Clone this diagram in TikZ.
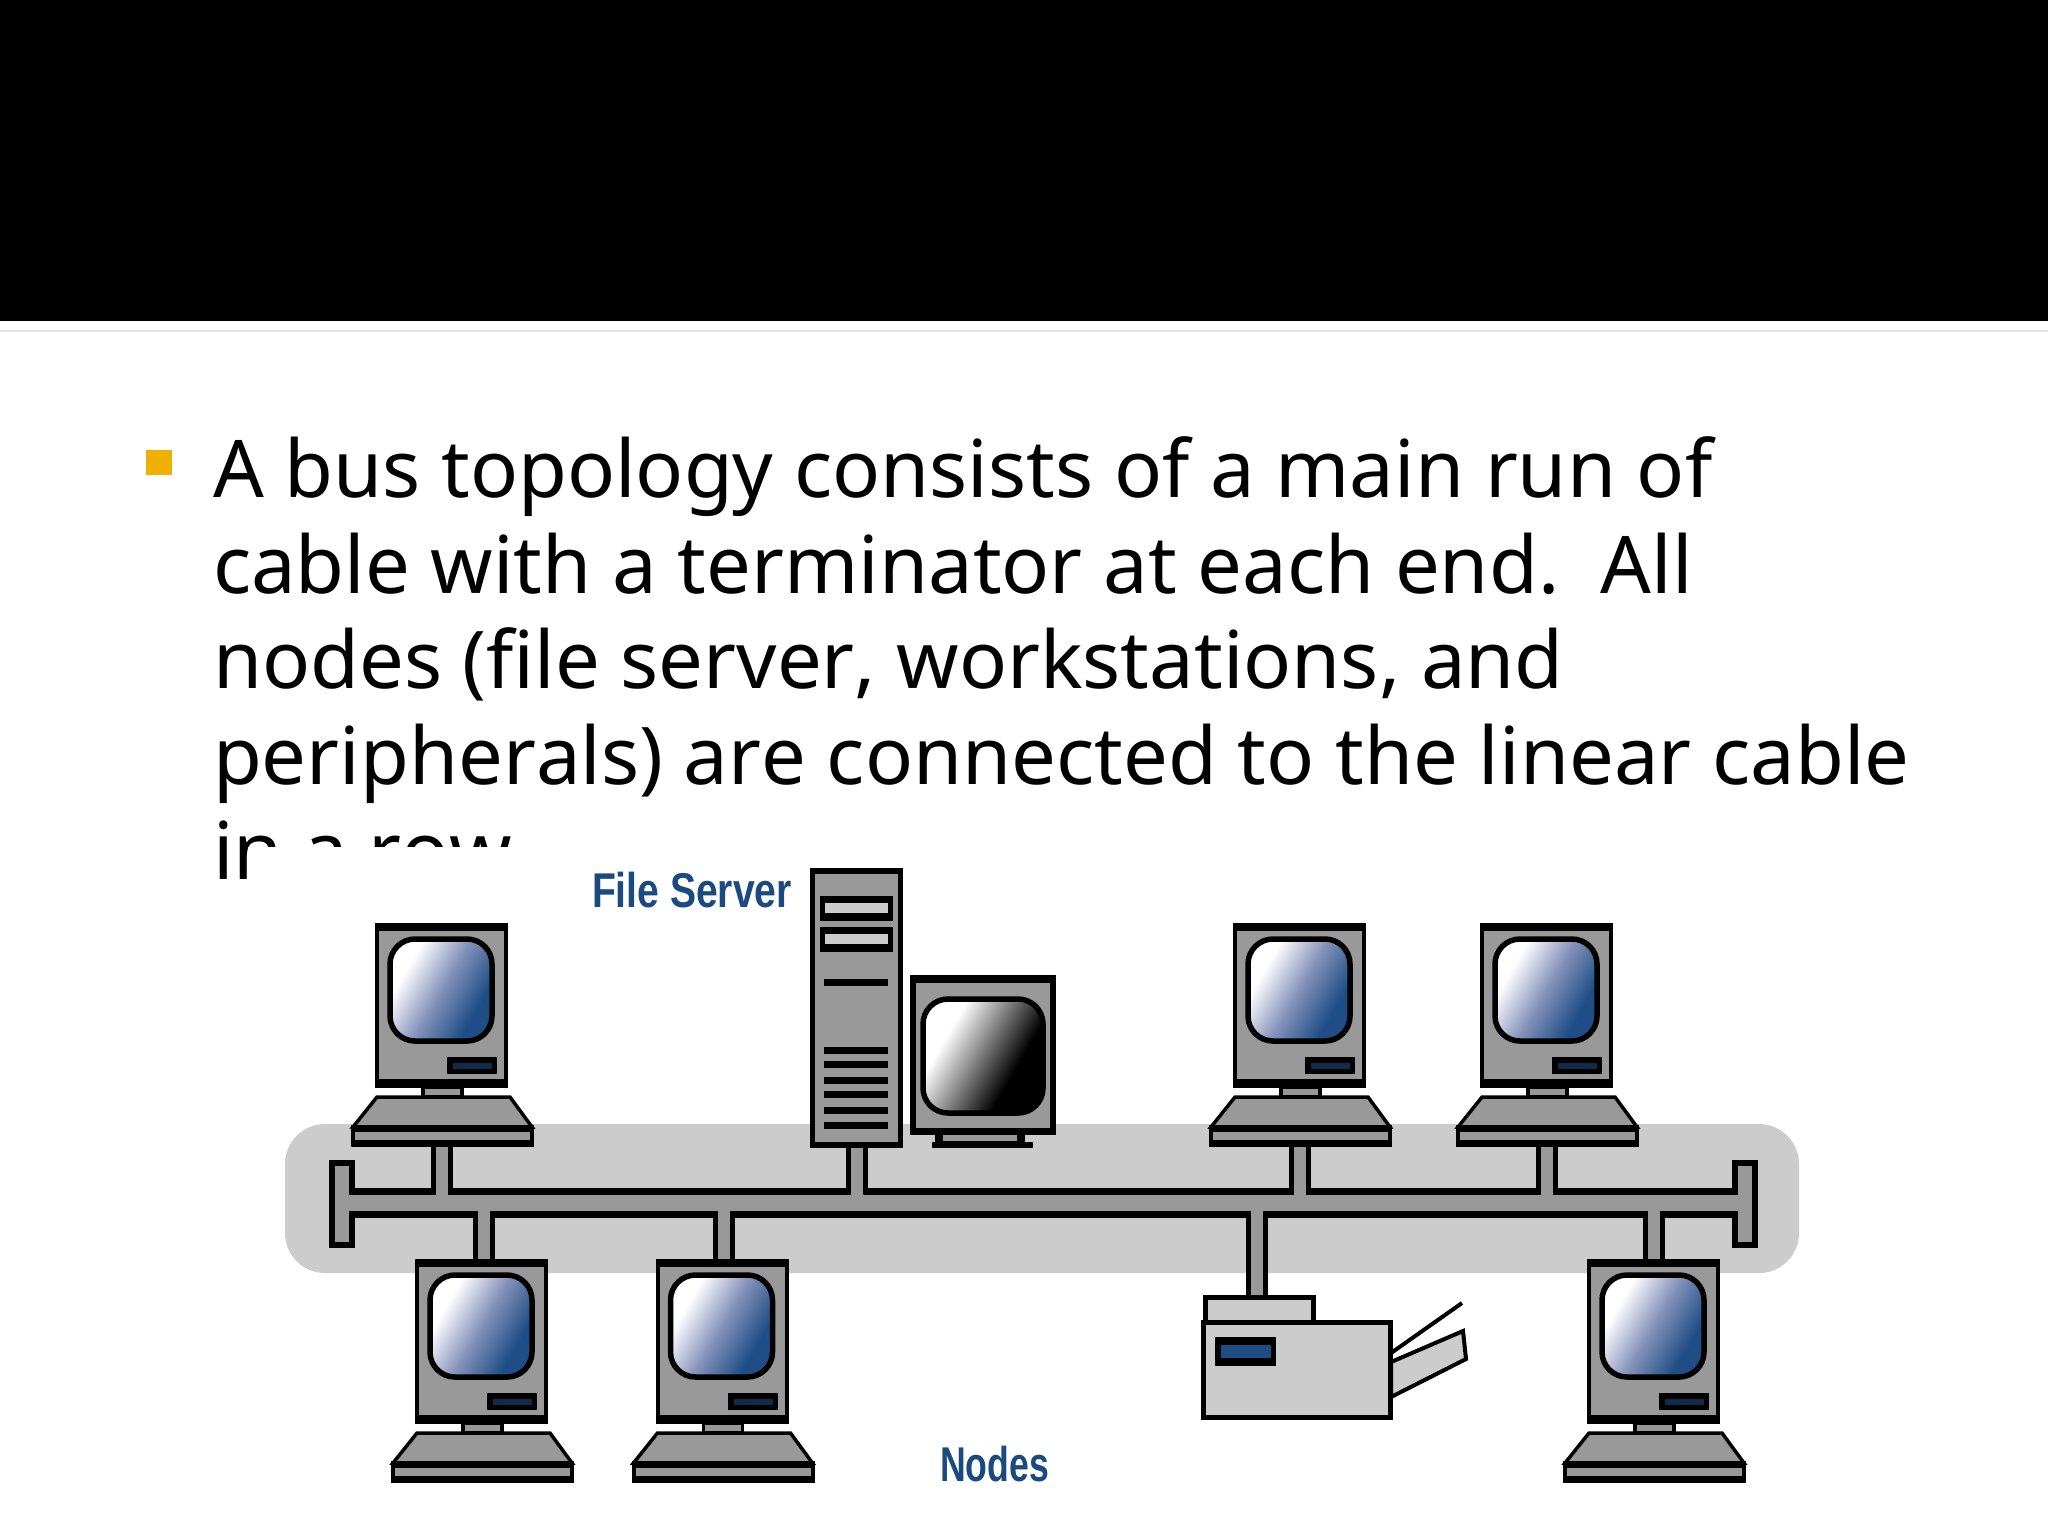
\documentclass[tikz,border=0pt]{standalone}
\usepackage{fontspec}
\usetikzlibrary{calc}
\setmainfont{Noto Sans}[Kerning=Off]
\newfontfamily\labelfont{Liberation Sans}
\definecolor{bodygray}{HTML}{999999}
\definecolor{bandgray}{HTML}{CCCCCC}
\definecolor{screenblue}{HTML}{1F4E86}
\definecolor{screenmid}{HTML}{8592BA}
\definecolor{labelblue}{HTML}{1B4A80}
\definecolor{bulletgold}{HTML}{F0B000}
\pgfdeclareverticalshading{bluefade}{100bp}{color(0bp)=(screenblue); color(30bp)=(screenblue); color(50bp)=(screenmid); color(70bp)=(white); color(100bp)=(white)}
\pgfdeclareverticalshading{blackfade}{100bp}{color(0bp)=(black); color(35bp)=(black); color(68bp)=(white); color(100bp)=(white)}
\begin{document}
\begin{tikzpicture}[x=.1mm, y=-.1mm,
    every node/.style={inner sep=0pt, outer sep=0pt},
    textline/.style={anchor=base west, font=\fontsize{22.64}{27}\selectfont},
    tag/.style={anchor=west, text=labelblue, font=\labelfont\bfseries\fontsize{13.9}{16}\selectfont},
    cableout/.style={line width=3mm, draw=black},
    cablein/.style={line width=1.6mm, draw=bodygray},
    dropout/.style={line width=2.2mm, draw=black},
    dropin/.style={line width=1.2mm, draw=bodygray},
    termout/.style={line width=2.55mm, draw=black},
    termin/.style={line width=1.4mm, draw=bodygray, shorten <=.6mm, shorten >=.6mm},
    screen/.style={draw=black, line width=.55mm, rounded corners=2.5mm},
    workstation/.pic={
      % monitor
      \fill[black] (0,0) rectangle (133,165);
      \fill[bodygray] (4,8) rectangle (129,156);
      \draw[screen, shading=bluefade, shading angle=60] (15,16) rectangle (117,118);
      \fill[black] (72,134) rectangle (122,151);
      \fill[screenblue!55!black] (78,140) rectangle (117,146);
      % neck and keyboard
      \filldraw[fill=bodygray, line width=.35mm] (48,164) rectangle (87,174);
      \filldraw[fill=bodygray, line width=.35mm] (2,174) -- (135,174) -- (157,204) -- (-22,204) -- cycle;
      \fill[black] (-24,202) rectangle (159,224);
      \fill[bodygray] (-20,209) rectangle (155,217);
      \coordinate (-top) at (66.5,0);
      \coordinate (-bot) at (66.5,224);
    },
    tower/.pic={
      \fill[black] (0,0) rectangle (93,280);
      \fill[bodygray] (5,6) rectangle (88,274);
      % drive bays
      \foreach \y in {28,59} {
        \fill[black] (10,\y) rectangle (83,\y+25);
        \fill[bandgray] (15,\y+7) rectangle (78,\y+17);
      }
      \fill[black] (14,111) rectangle (78,118);
      % vents
      \foreach \y in {179,193,209,223,239,254}
        \fill[black] (14,\y) rectangle (78,\y+7);
      \coordinate (-bot) at (46.9,280);
    },
    display/.pic={
      \fill[black] (0,0) rectangle (146,160);
      \fill[bodygray] (6,8) rectangle (140,153);
      \draw[screen, shading=blackfade, shading angle=60] (13,24) rectangle (133,138);
      % stand
      \fill[black] (25,160) rectangle (115,168);
      \fill[bodygray] (33,160) rectangle (107,166);
      \fill[black] (22,167) rectangle (123,173);
    },
    printer/.pic={
      % paper
      \draw[line width=.4mm] (190,58) -- (261,8);
      \filldraw[fill=bandgray, line width=.4mm] (190,67) -- (262,36) -- (265,64) -- (190,102) -- cycle;
      % body
      \filldraw[fill=bandgray, line width=.5mm] (4,2) rectangle (112,27);
      \filldraw[fill=bandgray, line width=.5mm] (2,27) rectangle (189,122);
      \fill[black] (14,42) rectangle (75,71);
      \fill[screenblue] (20,50) rectangle (70,63);
      \coordinate (-top) at (55.5,0);
    }]
  \useasboundingbox (0,0) rectangle (2048,1536);

  % Title bar
  \fill[black] (0,0) rectangle (2048,321);
  \draw[black!10, line width=.25mm] (0,331) -- (2048,331);

  % Bullet text
  \fill[bulletgold] (146,450) rectangle (172,475);
  \foreach \n/\y/\t in {1/497/{A bus topology consists of a main run of},
                        2/593/{cable with a terminator at each end.\ \ All},
                        3/688/{nodes (file server, workstations, and},
                        4/784/{peripherals) are connected to the linear cable},
                        5/879/{in a row.}}
    \node[textline] (line\n) at (213,\y) {\t};

  % Picture area covers the last line
  \fill[white] (248,847) rectangle (1900,1536);

  % Shaded band behind the cable
  \fill[bandgray, rounded corners=4mm] (285,1124) rectangle (1799,1273);

  % Ends of the cable
  \coordinate (terml) at (342,1160);
  \coordinate (termlb) at (342,1248);
  \coordinate (termr) at (1745,1160);
  \coordinate (termrb) at (1745,1248);
  \coordinate (busl) at (342,1203);
  \coordinate (busr) at (1745,1203);

  % Workstations, file server, printer
  \pic (wsa) at (375,923) {workstation};
  \pic (wsb) at (1233,923) {workstation};
  \pic (wsc) at (1480,923) {workstation};
  \pic (wsd) at (415,1259) {workstation};
  \pic (wse) at (655.5,1259) {workstation};
  \pic (wsf) at (1587,1259) {workstation};
  \pic (srv) at (810,868) {tower};
  \pic (dsp) at (910,975) {display};
  \pic (prn) at (1201,1295) {printer};

  % Cable: dark edges first, then the gray core over them
  \draw[cableout] (busl) -- (busr);
  \draw[termout] (terml) -- (termlb);
  \draw[termout] (termr) -- (termrb);
  \foreach \a in {wsa,wsb,wsc,srv}
    \draw[dropout] (\a-bot) -- (\a-bot |- busl);
  \foreach \a/\d in {wsd/2,wse/2,wsf/0,prn/0}
    \draw[dropout] ($(\a-top)+(\d,0)$) -- ($(\a-top |- busl)+(\d,0)$);

  \draw[cablein] (busl) -- (busr);
  \draw[termin] (terml) -- (termlb);
  \draw[termin] (termr) -- (termrb);
  \foreach \a in {wsa,wsb,wsc,srv}
    \draw[dropin] (\a-bot) -- (\a-bot |- busl);
  \foreach \a/\d in {wsd/2,wse/2,wsf/0,prn/0}
    \draw[dropin] ($(\a-top)+(\d,0)$) -- ($(\a-top |- busl)+(\d,0)$);

  % Labels
  \node[tag, xscale=.8] (lblserver) at (592,890) {File Server};
  \node[tag, xscale=.73] (lblnodes) at (940,1464) {Nodes};
\end{tikzpicture}
\end{document}
